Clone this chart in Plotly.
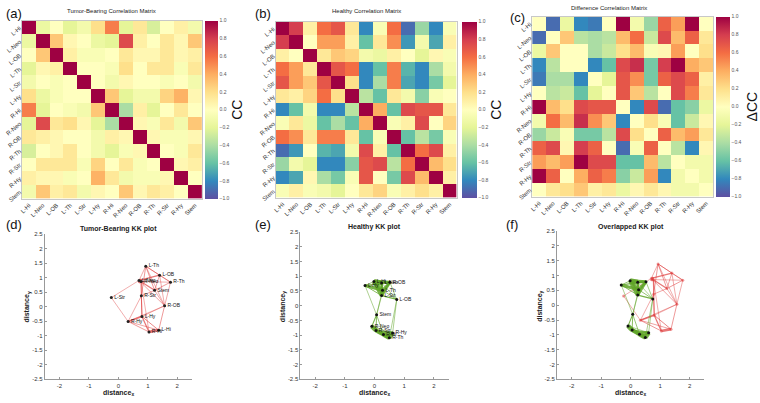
import plotly.graph_objects as go

W, H = 760, 403
def px(x): return x / W
def py(y): return 1 - y / H

regions = ["L-Hi", "L-Neo", "L-OB", "L-Th", "L-Str", "L-Hy",
           "R-Hi", "R-Neo", "R-OB", "R-Th", "R-Str", "R-Hy", "Stem"]

tumor_cc = [
    [1.00, -0.15, 0.00, -0.20, -0.10, 0.20, 0.55, -0.20, 0.15, -0.25, 0.00, 0.10, -0.10],
    [-0.15, 1.00, 0.30, 0.05, 0.00, -0.15, -0.20, 0.75, 0.10, 0.00, 0.15, 0.05, 0.30],
    [0.00, 0.30, 1.00, 0.10, -0.05, -0.05, 0.00, 0.15, 0.05, 0.05, 0.15, 0.05, 0.10],
    [-0.20, 0.05, 0.10, 1.00, 0.00, 0.00, -0.05, 0.20, 0.00, 0.15, 0.15, -0.05, 0.15],
    [-0.10, 0.00, -0.05, 0.00, 1.00, 0.00, -0.10, 0.05, 0.00, 0.00, -0.05, 0.00, -0.10],
    [0.20, -0.15, -0.05, 0.00, 0.00, 1.00, 0.30, -0.20, -0.10, -0.10, 0.25, 0.38, 0.05],
    [0.55, -0.20, 0.00, -0.05, -0.10, 0.30, 1.00, -0.40, 0.10, -0.20, 0.00, 0.15, 0.00],
    [-0.20, 0.75, 0.15, 0.20, 0.05, -0.20, -0.40, 1.00, 0.05, -0.05, 0.15, -0.10, 0.30],
    [0.15, 0.10, 0.05, 0.00, 0.00, -0.10, 0.10, 0.05, 1.00, 0.05, -0.05, -0.05, 0.05],
    [-0.25, 0.00, 0.05, 0.15, 0.00, -0.10, -0.20, -0.05, 0.05, 1.00, 0.00, -0.05, 0.15],
    [0.00, 0.15, 0.15, 0.15, -0.05, 0.25, 0.00, 0.15, -0.05, 0.00, 1.00, 0.05, 0.10],
    [0.10, 0.05, 0.05, -0.05, 0.00, 0.38, 0.15, -0.10, -0.05, -0.05, 0.05, 1.00, 0.00],
    [-0.10, 0.30, 0.10, 0.15, -0.10, 0.05, 0.00, 0.30, 0.05, 0.15, 0.10, 0.00, 1.00],
]

healthy_cc = [
    [1.00, 0.80, 0.10, 0.60, 0.70, 0.15, -0.80, -0.05, 0.60, -0.90, -0.45, -0.80, -0.05],
    [0.80, 1.00, 0.00, 0.45, 0.45, 0.10, -0.60, 0.15, 0.50, -0.75, -0.10, -0.70, 0.10],
    [0.10, 0.00, 1.00, 0.15, 0.30, 0.25, -0.10, -0.15, 0.10, 0.00, -0.20, 0.05, -0.05],
    [0.60, 0.45, 0.15, 1.00, 0.70, 0.60, -0.80, -0.60, 0.55, -0.65, -0.80, -0.40, -0.10],
    [0.70, 0.45, 0.30, 0.70, 1.00, 0.20, -0.80, -0.40, 0.55, -0.70, -0.80, -0.55, -0.20],
    [0.15, 0.10, 0.25, 0.60, 0.20, 1.00, -0.35, -0.60, 0.15, -0.10, -0.50, -0.05, 0.00],
    [-0.80, -0.60, -0.10, -0.80, -0.80, -0.35, 1.00, 0.40, -0.60, 0.75, 0.70, 0.70, 0.15],
    [-0.05, 0.15, -0.15, -0.60, -0.40, -0.60, 0.40, 1.00, -0.05, 0.10, 0.75, 0.00, 0.25],
    [0.60, 0.50, 0.15, 0.55, 0.55, 0.15, -0.60, -0.05, 1.00, -0.60, -0.35, -0.55, -0.05],
    [-0.90, -0.75, 0.00, -0.65, -0.70, -0.10, 0.75, 0.10, -0.60, 1.00, 0.60, 0.75, 0.10],
    [-0.45, -0.10, -0.20, -0.80, -0.80, -0.50, 0.70, 0.75, -0.35, 0.60, 1.00, 0.35, 0.20],
    [-0.80, -0.70, 0.05, -0.40, -0.55, -0.05, 0.70, 0.00, -0.55, 0.75, 0.35, 1.00, 0.10],
    [-0.05, 0.10, -0.05, -0.10, -0.20, 0.00, 0.15, 0.25, -0.05, 0.10, 0.20, 0.10, 1.00],
]

diff_cc = [
    [0.00, -0.90, -0.15, -0.80, -0.85, 0.00, 1.00, -0.10, -0.45, 0.65, 0.45, 1.00, 0.00],
    [-0.90, 0.00, 0.30, -0.35, -0.40, -0.35, 0.35, 0.60, -0.30, 0.75, 0.35, 0.65, 0.15],
    [-0.15, 0.30, 0.00, 0.00, -0.40, -0.30, 0.20, 0.35, -0.05, 0.05, 0.45, 0.00, 0.20],
    [-0.80, -0.35, 0.00, 0.00, -0.80, -0.60, 0.75, 0.85, -0.55, 0.80, 1.00, 0.40, 0.30],
    [-0.85, -0.40, -0.40, -0.80, 0.00, -0.20, 0.70, 0.50, -0.55, 0.65, 0.75, 0.65, 0.10],
    [0.00, -0.35, -0.30, -0.60, -0.20, 0.00, 0.70, 0.30, -0.35, 0.00, 0.75, 0.55, 0.15],
    [1.00, 0.35, 0.20, 0.75, 0.70, 0.70, 0.00, -0.80, 0.75, -0.90, -0.60, -0.50, -0.15],
    [-0.10, 0.60, 0.35, 0.85, 0.50, 0.30, -0.80, 0.00, 0.20, -0.05, -0.60, -0.30, 0.05],
    [-0.45, -0.30, -0.05, -0.55, -0.55, -0.35, 0.75, 0.20, 0.00, 0.65, 0.35, 0.45, 0.15],
    [0.65, 0.75, 0.05, 0.80, 0.65, 0.00, -0.90, -0.05, 0.65, 0.00, -0.35, -0.80, 0.05],
    [0.45, 0.35, 0.45, 1.00, 0.75, 0.75, -0.60, -0.60, 0.35, -0.35, 0.00, -0.10, -0.10],
    [1.00, 0.65, 0.00, 0.40, 0.65, 0.55, -0.50, -0.30, 0.45, -0.80, -0.10, 0.00, -0.10],
    [0.00, 0.15, 0.20, 0.30, 0.10, 0.15, -0.15, 0.05, 0.15, 0.05, -0.10, -0.10, 0.00],
]

cbar_ticks = [1.0, 0.8, 0.6, 0.4, 0.2, 0.0, -0.2, -0.4, -0.6, -0.8, -1.0]
cbar_labels = ["1.0", "0.8", "0.6", "0.4", "0.2", "0.0",
               "\u22120.2", "\u22120.4", "\u22120.6", "\u22120.8", "\u22121.0"]

# Kamada-Kawai node layouts (order = regions)
tumor_kx = [1.37, 0.70, 1.40, 0.93, -0.24, 0.80, 1.04, 0.77, 1.57, 1.77, 0.78, 0.33, 1.23]
tumor_ky = [-0.81, 0.90, 1.08, 1.39, 0.31, -0.34, -0.87, 0.86, 0.03, 0.84, 0.37, -0.51, 0.56]
healthy_kx = [-0.02, 0.24, 0.75, 0.27, 0.24, -0.32, 0.30, -0.09, 0.52, 0.50, 0.05, 0.61, 0.07]
healthy_ky = [0.82, 0.77, 0.21, 0.52, 0.34, 0.68, -0.98, -0.70, 0.79, -1.09, -0.84, -0.93, -0.31]

tumor_edges = [
    ("L-Th", "L-Neo"), ("L-Th", "L-OB"), ("L-Th", "R-Th"), ("L-Th", "Stem"), ("L-Th", "R-Str"),
    ("L-Th", "R-OB"), ("L-Neo", "R-Neo"), ("L-Neo", "L-OB"), ("R-Neo", "R-Th"), ("L-Neo", "Stem"),
    ("R-Neo", "R-Str"), ("L-Neo", "R-OB"), ("L-Neo", "L-Str"), ("R-Neo", "L-Hy"), ("R-Neo", "R-Hi"),
    ("L-OB", "R-Th"), ("L-OB", "Stem"), ("L-OB", "R-OB"), ("R-Th", "R-OB"), ("R-Th", "Stem"),
    ("Stem", "R-Str"), ("Stem", "R-OB"), ("L-Str", "R-Hy"), ("R-Str", "R-Hy"), ("R-Str", "L-Hy"),
    ("R-OB", "L-Hi"), ("R-OB", "L-Hy"), ("R-OB", "R-Hy"), ("L-Hy", "R-Hy"), ("L-Hy", "L-Hi"),
    ("L-Hy", "R-Hi"), ("R-Hy", "R-Hi"), ("R-Hy", "L-Hi"), ("L-Hi", "R-Hi"),
]

healthy_edges = [
    ("L-Hi", "L-Neo"), ("L-Hi", "L-Th"), ("L-Hi", "L-Str"), ("L-Hi", "L-Hy"), ("L-Hi", "R-OB"),
    ("L-Neo", "L-Th"), ("L-Neo", "L-Str"), ("L-Neo", "L-Hy"), ("L-Neo", "R-OB"),
    ("L-Th", "L-Str"), ("L-Th", "L-Hy"), ("L-Th", "R-OB"), ("L-Str", "L-Hy"), ("L-Str", "R-OB"),
    ("L-Hy", "R-OB"), ("L-OB", "L-Str"), ("L-OB", "L-Th"), ("L-OB", "R-OB"), ("L-OB", "L-Neo"),
    ("Stem", "L-Th"), ("Stem", "L-Str"), ("Stem", "L-Hy"), ("L-OB", "R-Hy"), ("L-OB", "R-Th"),
    ("R-Hi", "R-Neo"), ("R-Hi", "R-Th"), ("R-Hi", "R-Str"), ("R-Hi", "R-Hy"), ("R-Neo", "R-Th"),
    ("R-Neo", "R-Str"), ("R-Neo", "R-Hy"), ("R-Th", "R-Str"), ("R-Th", "R-Hy"), ("R-Str", "R-Hy"),
    ("Stem", "R-Neo"), ("Stem", "R-Str"), ("Stem", "R-Hi"),
]

spectral_r = [[0.0, "#5e4fa2"], [0.1, "#3288bd"], [0.2, "#66c2a5"], [0.3, "#abdda4"],
              [0.4, "#e6f598"], [0.5, "#ffffbf"], [0.6, "#fee08b"], [0.7, "#fdae61"],
              [0.8, "#f46d43"], [0.9, "#d53e4f"], [1.0, "#9e0142"]]

FONT = "Liberation Sans, Arial, sans-serif"
fig = go.Figure()

heat_specs = [
    (tumor_cc, "x", "y", 204, 18, 199, 13, "CC"),
    (healthy_cc, "x2", "y2", 462, 19, 198, 15, "CC"),
    (diff_cc, "x3", "y3", 718, 14, 197, 14, "\u0394CC"),
]
for z, xa, ya, cbx, top, bot, thick, ttl in heat_specs:
    fig.add_trace(go.Heatmap(
        z=z, x=regions, y=regions, xaxis=xa, yaxis=ya, zmin=-1, zmax=1,
        colorscale=spectral_r, hoverinfo="skip",
        colorbar=dict(x=px(cbx), xanchor="left", xref="paper", yref="paper",
                      y=py((top + bot) / 2), yanchor="middle",
                      len=(bot - top) / H, lenmode="fraction",
                      thickness=thick, thicknessmode="pixels", outlinewidth=0,
                      tickvals=cbar_ticks, ticktext=cbar_labels, ticks="",
                      tickfont=dict(size=5, color="#555", family=FONT), ypad=0, xpad=0,
                      title=dict(text=ttl, side="right", font=dict(size=14, color="#111", family=FONT)))))


def edge_width(c):
    c = max(c, 0.0)
    return 0.6 + 7.0 * c * c


def add_graph(xs, ys, edges, cc, color, xa, ya, labels, marker_color):
    idx = {r: i for i, r in enumerate(regions)}
    for a, b in edges:
        i, j = idx[a], idx[b]
        fig.add_trace(go.Scatter(x=[xs[i], xs[j]], y=[ys[i], ys[j]], mode="lines",
                                 line=dict(color=color, width=edge_width(cc[i][j])),
                                 xaxis=xa, yaxis=ya, hoverinfo="skip", showlegend=False))
    if labels:
        fig.add_trace(go.Scatter(x=xs, y=ys, mode="markers+text",
                                 text=regions, textposition="middle right",
                                 textfont=dict(size=5, color="#111", family=FONT),
                                 marker=dict(size=3, color=marker_color),
                                 xaxis=xa, yaxis=ya, hoverinfo="skip", showlegend=False))
    else:
        fig.add_trace(go.Scatter(x=xs, y=ys, mode="markers",
                                 marker=dict(size=3, color=marker_color),
                                 xaxis=xa, yaxis=ya, hoverinfo="skip", showlegend=False))


RED = "rgba(222,60,60,0.7)"
GREEN = "rgba(96,165,40,0.85)"
add_graph(tumor_kx, tumor_ky, tumor_edges, tumor_cc, RED, "x4", "y4", True, "#222")
add_graph(healthy_kx, healthy_ky, healthy_edges, healthy_cc, GREEN, "x5", "y5", True, "#111")
add_graph(tumor_kx, tumor_ky, tumor_edges, tumor_cc, RED, "x6", "y6", False, "rgba(222,60,60,0.5)")
add_graph(healthy_kx, healthy_ky, healthy_edges, healthy_cc, GREEN, "x6", "y6", False, "#111")

layout = dict(width=W, height=403, autosize=False, margin=dict(l=0, r=0, t=0, b=0),
              paper_bgcolor="white", plot_bgcolor="white", showlegend=False,
              font=dict(family=FONT, color="#222"))

heat_dom = [("", 20, 201, 18, 199), ("2", 275, 457, 19, 198), ("3", 533, 715, 14, 197)]
for s, x0, x1, y0, y1 in heat_dom:
    layout["xaxis" + s] = dict(domain=[px(x0), px(x1)], anchor="y" + s, tickangle=-45,
                               tickfont=dict(size=6, color="#333"), showgrid=False, zeroline=False,
                               showline=True, mirror=True, linecolor="#c8c8c8", linewidth=1, ticks="")
    layout["yaxis" + s] = dict(domain=[py(y1), py(y0)], anchor="x" + s, autorange="reversed",
                               tickangle=-40, tickfont=dict(size=6, color="#333"), showgrid=False,
                               zeroline=False, showline=True, mirror=True, linecolor="#c8c8c8",
                               linewidth=1, ticks="")

kk_dom = [("4", 43, 191, 235, 383), ("5", 300, 449, 233, 383), ("6", 558, 706, 232, 383)]
ytv = [2.5, 2, 1.5, 1, 0.5, 0, -0.5, -1, -1.5, -2, -2.5]
ytt = ["2.5", "2", "1.5", "1", "0.5", "0", "-0.5", "-1", "-1.5", "-2", "-2.5"]
for s, x0, x1, y0, y1 in kk_dom:
    layout["xaxis" + s] = dict(domain=[px(x0), px(x1)], anchor="y" + s, range=[-2.5, 2.5],
                               tickvals=[-2, -1, 0, 1, 2], ticktext=["-2", "-1", "0", "1", "2"],
                               tickfont=dict(size=6, color="#333"), showgrid=False, zeroline=False,
                               showline=True, linecolor="#999", linewidth=1, ticks="inside",
                               ticklen=2, tickcolor="#999")
    layout["yaxis" + s] = dict(domain=[py(y1), py(y0)], anchor="x" + s, range=[-2.5, 2.5],
                               tickvals=ytv, ticktext=ytt, tickfont=dict(size=6, color="#333"),
                               showgrid=False, zeroline=False, showline=True, linecolor="#999",
                               linewidth=1, ticks="inside", ticklen=2, tickcolor="#999")

ann = []
def note(text, x, y, size, bold=False, angle=0, color="#222", xanchor="center"):
    ann.append(dict(text=("<b>%s</b>" % text) if bold else text, x=px(x), y=py(y),
                    xref="paper", yref="paper", showarrow=False, textangle=angle,
                    xanchor=xanchor, yanchor="middle",
                    font=dict(size=size, color=color, family=FONT)))

note("(a)", 2, 11, 13, xanchor="left", color="#111")
note("(b)", 252, 11, 13, xanchor="left", color="#111")
note("(c)", 509, 15, 13, xanchor="left", color="#111")
note("(d)", 2, 225, 13, xanchor="left", color="#111")
note("(e)", 252, 225, 13, xanchor="left", color="#111")
note("(f)", 505, 225, 13, xanchor="left", color="#111")
note("Tumor-Bearing Correlation Matrix", 110, 8, 6)
note("Healthy Correlation Matrix", 366, 8, 6)
note("Difference Correlation Matrix", 610, 5, 6)
note("Tumor-Bearing KK plot", 117, 230, 7, bold=True)
note("Healthy KK plot", 374, 228, 7, bold=True)
note("Overlapped KK plot", 632, 228, 7, bold=True)
for cx, cyl, ylx in [(117, 397, 25), (374, 397, 282), (632, 397, 540)]:
    note("distance<sub>x</sub>", cx, cyl, 7, bold=True)
    note("distance<sub>y</sub>", ylx, 309, 7, bold=True, angle=-90)
layout["annotations"] = ann

fig.update_layout(**layout)
fig.write_html("out.html", config={"displayModeBar": False},
               post_script="document.body.style.margin='0';document.body.style.overflow='hidden';")
